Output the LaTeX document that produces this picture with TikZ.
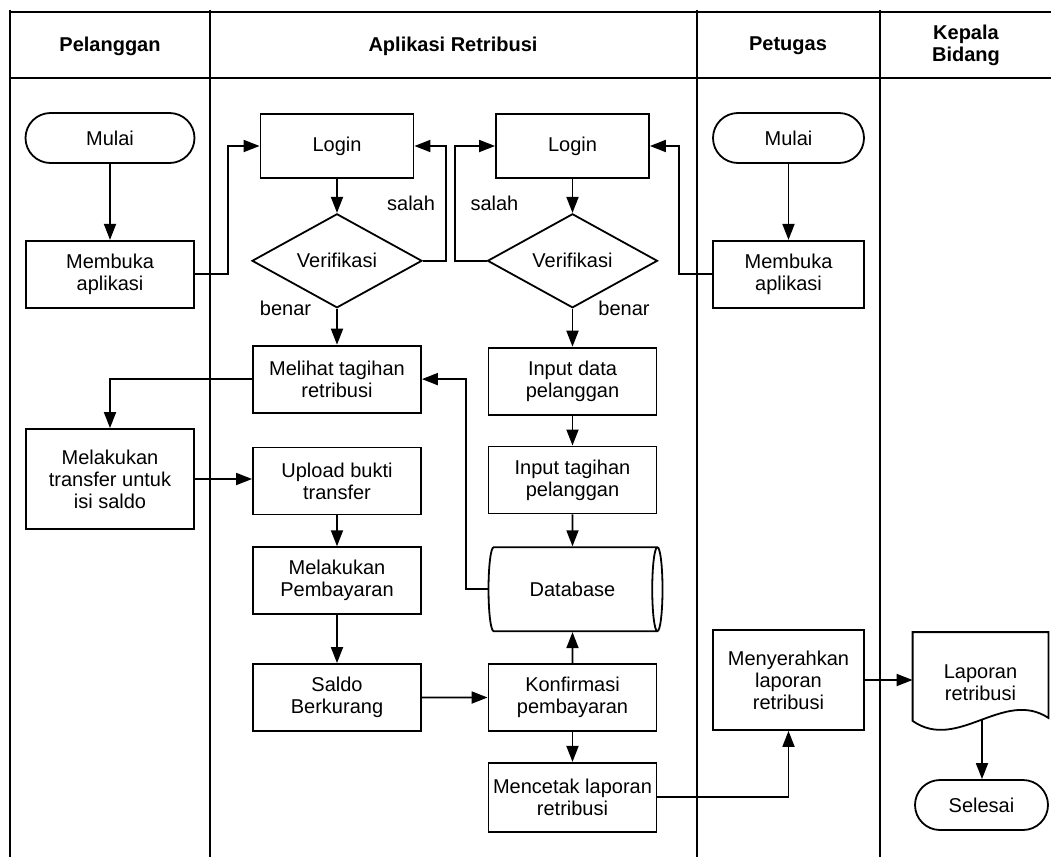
\documentclass[tikz,border=0pt]{standalone}
\usepackage{fontspec}
\setmainfont{Liberation Sans}
\usetikzlibrary{arrows.meta,positioning,calc,shapes.geometric}

\begin{document}
\begin{tikzpicture}[
  x=0.5pt, y=-0.5pt,
  node distance=16.5pt,
  font=\fontsize{10}{11}\selectfont,
  proc/.style={draw, line width=0.9pt, align=center,
               minimum width=84pt, minimum height=33.5pt, inner sep=2pt},
  term/.style={draw, line width=0.9pt, rounded corners=12.5pt,
               minimum height=25pt, align=center},
  decision/.style={draw, line width=0.9pt, diamond, aspect=1.8,
                   minimum width=85pt, minimum height=47pt, inner sep=0pt},
  db/.style={draw, line width=0.9pt, cylinder, aspect=0.7,
             minimum height=87pt, minimum width=42pt, inner sep=0pt},
  doc/.style={minimum width=67.5pt, minimum height=50pt, align=center},
  arrow/.style={-{Triangle[length=8pt, width=6pt]}, line width=0.9pt},
  ann/.style={inner sep=0pt},
  lane/.style={line width=0.75pt},
  head/.style={font=\fontsize{10}{11}\selectfont\bfseries, align=center},
]
  \useasboundingbox (0,0) rectangle (1051,857);

  %% Swimlanes
  \draw[lane] (10,12) -- (1051,12);
  \draw[lane] (10,78) -- (1051,78);
  \foreach \lx in {10,210,697,880}
    \draw[lane] (\lx,10) -- (\lx,857);
  \node[head] (hpel) at (110,46)   {Pelanggan};
  \node[head] (happ) at (453,46)   {Aplikasi Retribusi};
  \node[head] (hpet) at (788,46)   {Petugas};
  \node[head] (hkep) at (966,45)   {Kepala\\Bidang};

  %% Pelanggan
  \node[term, minimum width=84.5pt] (mulaiP) at (110,138) {Mulai};
  \node[proc, below=38pt of mulaiP] (bukaP) {Membuka\\aplikasi};
  \node[proc, minimum height=50pt] (transfer) at (110,479) {Melakukan\\transfer untuk\\isi saldo};

  %% Aplikasi Retribusi (pelanggan side)
  \node[proc, minimum width=76.5pt, minimum height=32pt] (login1) at (337,146) {Login};
  \node[decision, below=17pt of login1] (verif1) {Verifikasi};
  \node[proc, below=18pt of verif1]   (melihat) {Melihat tagihan\\retribusi};
  \node[proc, below=of melihat]       (upload)  {Upload bukti\\transfer};
  \node[proc, below=15.5pt of upload] (bayar)   {Melakukan\\Pembayaran};
  \node[proc, below=24pt of bayar]    (saldo)   {Saldo\\Berkurang};

  %% Aplikasi Retribusi (petugas side)
  \node[proc, minimum width=76.5pt, minimum height=32pt] (login2) at (572.5,146) {Login};
  \node[decision, below=17pt of login2] (verif2) {Verifikasi};
  \node[proc, below=19pt of verif2]     (inputdata)    {Input data\\pelanggan};
  \node[proc, below=15pt of inputdata]  (inputtagihan) {Input tagihan\\pelanggan};
  \node[db, below=16pt of inputtagihan] (database)     {Database};
  \node[proc, below=15.5pt of database] (konfirmasi)   {Konfirmasi\\pembayaran};
  \node[proc, minimum height=34.5pt, below=15pt of konfirmasi] (mencetak) {Mencetak laporan\\retribusi};

  %% Petugas
  \node[term, minimum width=75.5pt] (mulaiT) at (788.5,138) {Mulai};
  \node[proc, minimum width=75.5pt, below=38pt of mulaiT] (bukaT) {Membuka\\aplikasi};
  \node[proc, minimum width=75.5pt, minimum height=50pt] (serah) at (788.5,680) {Menyerahkan\\laporan\\retribusi};

  %% Kepala Bidang
  \node[doc] (laporan) at (980.5,682.5) {Laporan\\retribusi};
  \draw[line width=0.9pt] ($(laporan.south west)+(0,-12)$) -- (laporan.north west)
    -- (laporan.north east) -- ($(laporan.south east)+(0,-15)$)
    .. controls ($(laporan.south east)+(-45,-44.5)$) and ($(laporan.south west)+(45,19.5)$)
    .. ($(laporan.south west)+(0,-12)$) -- cycle;
  \coordinate (lapout) at ($(laporan.south)+(1.5,-12.75)$);
  \node[term, minimum width=66.5pt] (selesai) at (981.5,805) {Selesai};

  %% Connectors
  \draw[arrow] (mulaiP) -- (bukaP);
  \draw[arrow] (bukaP.east) -- ++(33,0) |- (login1.west);
  \draw[arrow] (login1) -- (verif1);
  \draw[arrow] (verif1.east) -- ++(23,0) |- node[ann, pos=0.25, left=5pt] {salah} (login1.east);
  \draw[arrow] (verif1) -- node[ann, pos=0, left=12.5pt] {benar} (melihat);
  \draw[arrow] (melihat.west) -| (transfer.north);
  \draw[arrow] (transfer.east) -- (transfer.east -| upload.west);
  \draw[arrow] (upload) -- (bayar);
  \draw[arrow] (bayar) -- (saldo);
  \draw[arrow] (saldo) -- (konfirmasi);

  \draw[arrow] (mulaiT) -- (bukaT);
  \draw[arrow] (bukaT.west) -- ++(-33,0) |- (login2.east);
  \draw[arrow] (login2) -- (verif2);
  \draw[arrow] (verif2.west) -- ++(-32,0) |- node[ann, pos=0.25, right=7.5pt] {salah} (login2.west);
  \draw[arrow] (verif2) -- node[ann, pos=0, right=12.5pt] {benar} (inputdata);
  \draw[arrow] (inputdata) -- (inputtagihan);
  \draw[arrow] (inputtagihan) -- (database);
  \draw[arrow] (database.west) -- ++(-22,0) |- (melihat.east);
  \draw[arrow] (konfirmasi) -- (database);
  \draw[arrow] (konfirmasi) -- (mencetak);
  \draw[arrow] (mencetak.east) -| (serah.south);
  \draw[arrow] (serah.east) -- (serah.east -| laporan.west);
  \draw[arrow] (lapout) -- (lapout |- selesai.north);

\end{tikzpicture}
\end{document}
